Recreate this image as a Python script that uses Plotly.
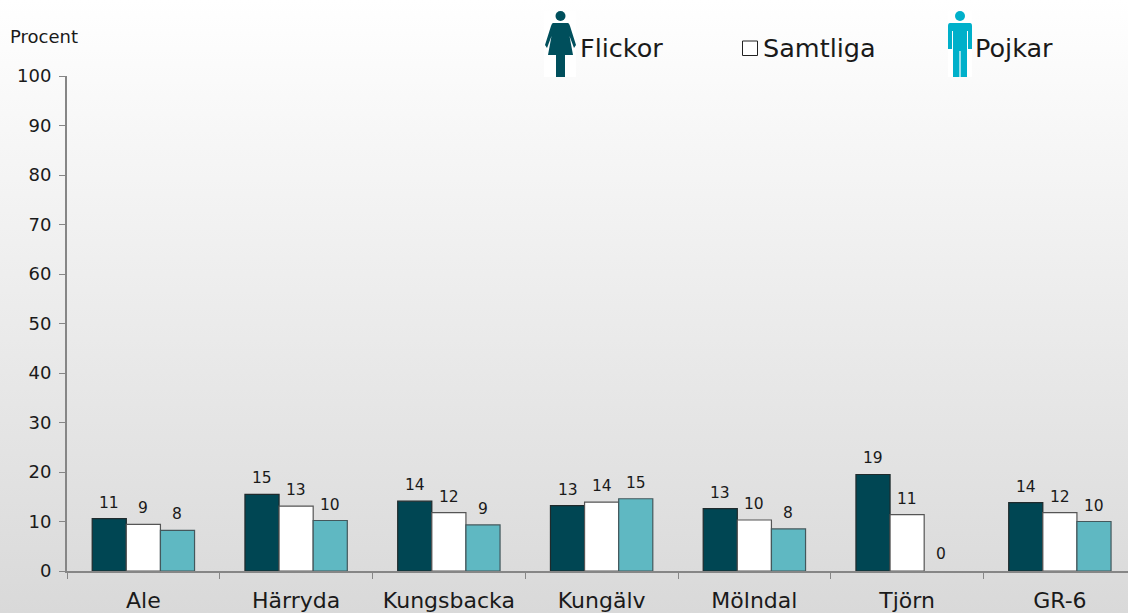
import base64
import plotly.graph_objects as go

categories = ["Ale", "Härryda", "Kungsbacka", "Kungälv", "Mölndal", "Tjörn", "GR-6"]
flickor = [10.6, 15.5, 14.1, 13.2, 12.6, 19.5, 13.8]
samtliga = [9.4, 13.1, 11.8, 13.9, 10.3, 11.4, 11.8]
pojkar = [8.2, 10.2, 9.3, 14.6, 8.5, 0, 10.0]
flickor_labels = ["11", "15", "14", "13", "13", "19", "14"]
samtliga_labels = ["9", "13", "12", "14", "10", "11", "12"]
pojkar_labels = ["8", "10", "9", "15", "8", "0", "10"]

W, H = 1128, 613
L, R, T, B = 67, 0, 76, 42
PW, PH = W - L - R, H - T - B
FONT = "DejaVu Sans"
INK = "#1a1a1a"


def uri(svg):
    return "data:image/svg+xml;base64," + base64.b64encode(svg.encode()).decode()


def px(x):
    return (x - L) / PW


def py(y):
    return 1 - (y - T) / PH


def image(svg, x0, y0, w, h, layer):
    return dict(source=uri(svg), xref="paper", yref="paper", x=px(x0), y=py(y0),
                sizex=w / PW, sizey=h / PH, xanchor="left", yanchor="top",
                sizing="stretch", layer=layer)


gradient = ('<svg xmlns="http://www.w3.org/2000/svg" width="1128" height="613" preserveAspectRatio="none">'
            '<defs><linearGradient id="g" x1="0" y1="0" x2="0" y2="1">'
            '<stop offset="0" stop-color="#ffffff"/><stop offset="1" stop-color="#d9d9d9"/>'
            '</linearGradient></defs><rect width="1128" height="613" fill="url(#g)"/></svg>')

female = ('<svg xmlns="http://www.w3.org/2000/svg" width="32" height="66" viewBox="0 0 32 66">'
          '<rect width="32" height="66" fill="#ffffff"/>'
          '<g fill="#004f5c"><circle cx="16.5" cy="5" r="5"/>'
          '<path d="M9 12 H24 Q25 12 26 15 L32 34 L30 37 L25.5 25 L29 44 H4 L7.5 25 L3 37 L1 34 L7 15 Q8 12 9 12 Z"/>'
          '<rect x="12" y="44" width="9" height="22"/></g></svg>')

male = ('<svg xmlns="http://www.w3.org/2000/svg" width="24" height="66" viewBox="0 0 24 66">'
        '<rect width="24" height="66" fill="#ffffff"/>'
        '<g fill="#00b0ca"><circle cx="12" cy="5" r="5"/>'
        '<path d="M2 12 H22 Q24 12 24 15 V38 H20 V20 H19 V66 H12.6 V40 H11.4 V66 H5 V20 H4 V38 H0 V15 Q0 12 2 12 Z"/></g></svg>')

series = [
    ("Flickor", flickor, "#004653", "#1f2a2c"),
    ("Samtliga", samtliga, "#ffffff", "#555555"),
    ("Pojkar", pojkar, "#5fb8c2", "#44585c"),
]

fig = go.Figure()
for name, values, fill, edge in series:
    fig.add_trace(go.Bar(name=name, x=categories, y=values,
                         marker=dict(color=fill,
                                     line=dict(color=edge, width=[1.2 if v else 0 for v in values])),
                         showlegend=False, hoverinfo="skip"))

annotations = []
for offset, values, labels in [(-0.2227, flickor, flickor_labels),
                               (0, samtliga, samtliga_labels),
                               (0.2227, pojkar, pojkar_labels)]:
    for i, (v, t) in enumerate(zip(values, labels)):
        annotations.append(dict(x=i + offset, y=v, xref="x", yref="y", text=t, showarrow=False,
                                yshift=16 if v else 17, font=dict(family=FONT, size=15.5, color=INK)))


def label(x, y, text, size):
    annotations.append(dict(xref="paper", yref="paper", x=px(x), y=py(y), text=text, showarrow=False,
                            xanchor="left", yanchor="middle",
                            font=dict(family=FONT, size=size, color=INK)))


label(8, 37, "Procent", 18)
label(578, 48, "Flickor", 25.5)
label(761, 48, "Samtliga", 25.5)
label(973, 48, "Pojkar", 25.5)

fig.update_layout(
    width=W, height=H, autosize=False,
    margin=dict(l=L, r=R, t=T, b=B, pad=0),
    paper_bgcolor="rgba(0,0,0,0)", plot_bgcolor="rgba(0,0,0,0)",
    barmode="group", bargap=0.33, bargroupgap=0,
    font=dict(family=FONT, color=INK),
    images=[image(gradient, 0, 0, W, H, "below"),
            image(female, 544, 11, 32, 66, "above"),
            image(male, 948, 11, 24, 66, "above")],
    shapes=[dict(type="rect", xref="paper", yref="paper", x0=px(742.5), x1=px(757.5),
                 y0=py(55.5), y1=py(41), fillcolor="#ffffff", line=dict(color="#222222", width=1))],
    annotations=annotations,
    xaxis=dict(type="category", categoryorder="array", categoryarray=categories,
               range=[-0.5, (W - L) / 152.75 - 0.5], tickson="boundaries",
               ticks="outside", ticklen=6, tickcolor="#868686", tickwidth=1,
               showline=True, linecolor="#868686", linewidth=2, showgrid=False, zeroline=False,
               tickfont=dict(family=FONT, size=22, color=INK), ticklabelstandoff=9),
    yaxis=dict(range=[0, 100], tickvals=list(range(0, 101, 10)),
               ticks="outside", ticklen=6, tickcolor="#868686", tickwidth=1,
               showline=True, linecolor="#868686", linewidth=2, showgrid=False, zeroline=False,
               tickfont=dict(family=FONT, size=18, color=INK), ticklabelstandoff=4),
)

fig.write_html("out.html", config={"displayModeBar": False},
               post_script="document.body.style.margin='0';document.documentElement.style.overflow='hidden';")
